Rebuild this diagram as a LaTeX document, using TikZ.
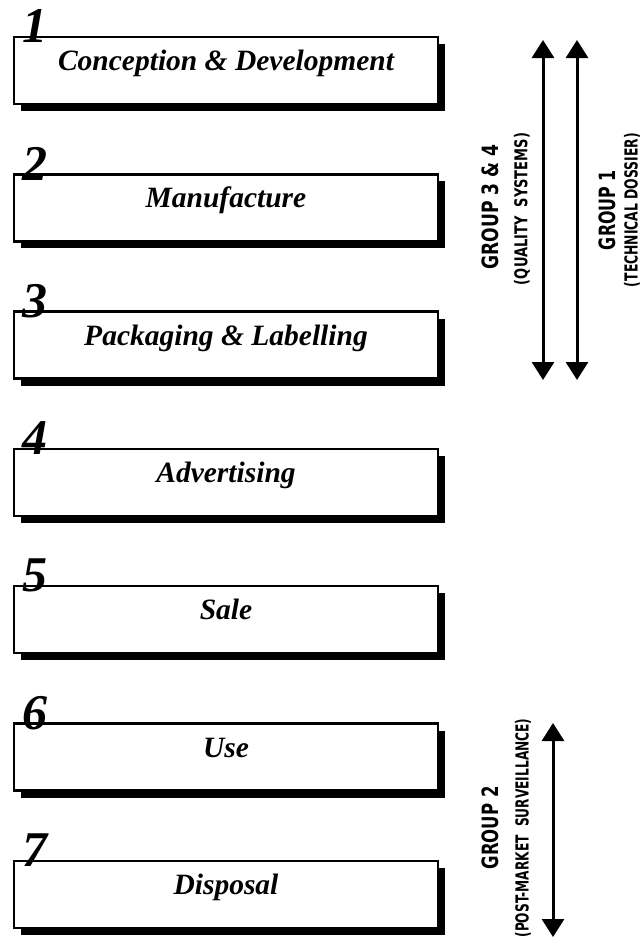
\documentclass[tikz,border=0pt]{standalone}
\usepackage{fontspec}
\setmainfont{Liberation Serif}
\newfontfamily\grpfont{DejaVu Sans}
\usetikzlibrary{arrows.meta,shadows}
\tikzset{
  stage/.style={draw, line width=2.5pt, fill=white, minimum width=424pt,
    minimum height=67pt, inner sep=0pt, text height=20pt, text depth=20pt,
    font=\bfseries\itshape\fontsize{29.5}{29.5}\selectfont,
    drop shadow={shadow xshift=7pt, shadow yshift=-7pt, fill=black, opacity=1}},
  stagenum/.style={anchor=base west, inner sep=0pt, xshift=10pt, yshift=-7pt,
    font=\bfseries\itshape\fontsize{50}{50}\selectfont},
  grp/.style={rotate=90, inner sep=0pt},
  spanarrow/.style={line width=3pt,
    {Triangle[width=22pt,length=18pt]}-{Triangle[width=22pt,length=18pt]}}
}
\newcommand{\grplabel}[3]{\resizebox*{#1pt}{#2pt}{\grpfont\bfseries #3}}
\begin{document}
\begin{tikzpicture}[x=1pt,y=-1pt]
  \useasboundingbox (0,0) rectangle (644,938);
  % stages
  \draw
    (226,70.5) node[stage] (s1){Conception \& Development}
    (226,207.8) node[stage] (s2){Manufacture}
    (226,345.1) node[stage] (s3){Packaging \& Labelling}
    (226,482.4) node[stage] (s4){Advertising}
    (226,619.7) node[stage] (s5){Sale}
    (226,757.0) node[stage] (s6){Use}
    (226,894.3) node[stage] (s7){Disposal};
  \draw
    (s1.north west) node[stagenum] (n1){1}
    (s2.north west) node[stagenum] (n2){2}
    (s3.north west) node[stagenum] (n3){3}
    (s4.north west) node[stagenum] (n4){4}
    (s5.north west) node[stagenum] (n5){5}
    (s6.north west) node[stagenum] (n6){6}
    (s7.north west) node[stagenum] (n7){7};
  % groups
  \coordinate (q1) at (543,40);
  \coordinate (q2) at (543,380);
  \coordinate (t1) at (577,40);
  \coordinate (t2) at (577,380);
  \coordinate (p1) at (553,723);
  \coordinate (p2) at (553,937);
  \begin{scope}[spanarrow]
    \draw (q1) to (q2);
    \draw (t1) to (t2);
    \draw (p1) to (p2);
  \end{scope}
  \draw
    (490,207) node[grp] (g34){\grplabel{125}{17}{GROUP 3 \& 4}}
    (522,209) node[grp] (qs){\grplabel{152}{16}{(QUALITY\ \ SYSTEMS)}}
    (607,210) node[grp] (g1){\grplabel{80}{17}{GROUP 1}}
    (632,210) node[grp] (td){\grplabel{154}{16}{(TECHNICAL DOSSIER)}}
    (490,828) node[grp] (g2){\grplabel{83}{17}{GROUP 2}}
    (523,828) node[grp] (pms){\grplabel{219}{16}{(POST-MARKET\ \ SURVEILLANCE)}};
\end{tikzpicture}
\end{document}
